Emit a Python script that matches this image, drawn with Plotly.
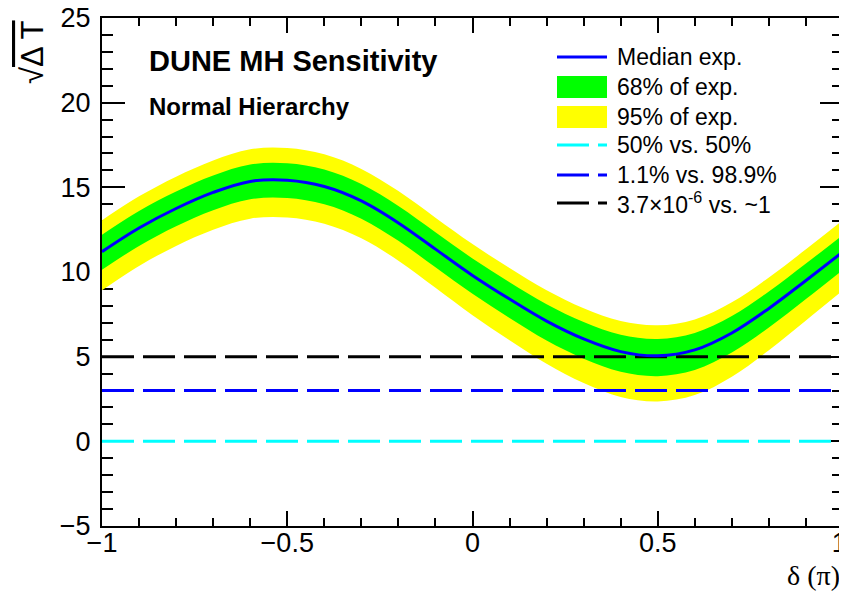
import plotly.graph_objects as go

# delta_CP in units of pi
delta = [-1.0, -0.9, -0.8, -0.7, -0.6, -0.5, -0.4, -0.3, -0.2, -0.1, 0.0,
         0.1, 0.2, 0.3, 0.4, 0.5, 0.6, 0.7, 0.8, 0.9, 1.0]
median = [11.2, 12.6, 13.75, 14.7, 15.35, 15.42, 15.05, 14.2, 12.9, 11.35, 9.8,
          8.4, 7.1, 6.05, 5.3, 5.05, 5.4, 6.4, 7.85, 9.5, 11.2]
band68_hi = [12.2, 13.6, 14.75, 15.7, 16.35, 16.42, 16.05, 15.2, 13.9, 12.35, 10.8,
             9.4, 8.1, 7.05, 6.3, 6.05, 6.4, 7.4, 8.85, 10.5, 12.2]
band68_lo = [10.13, 11.54, 12.7, 13.65, 14.3, 14.37, 14.0, 13.15, 11.84, 10.28, 8.71,
             7.28, 5.95, 4.88, 4.11, 3.85, 4.21, 5.24, 6.72, 8.4, 10.13]
band95_hi = [13.06, 14.47, 15.63, 16.59, 17.25, 17.32, 16.95, 16.09, 14.78, 13.21, 11.65,
             10.23, 8.92, 7.86, 7.1, 6.85, 7.2, 8.21, 9.68, 11.34, 13.06]
band95_lo = [8.92, 10.36, 11.54, 12.5, 13.15, 13.22, 12.85, 11.99, 10.67, 9.07, 7.45,
             5.97, 4.58, 3.44, 2.62, 2.35, 2.73, 3.82, 5.38, 7.14, 8.92]

ref_levels = [0, 3, 5]
ref_names = ["50% vs. 50%", "1.1% vs. 98.9%", "3.7×10<sup>-6</sup> vs. ~1"]
ref_colors = ["#00ffff", "#0000ff", "#000000"]

legend_labels = ["Median exp.", "68% of exp.", "95% of exp."] + ref_names

x_ticks = [-1, -0.5, 0, 0.5, 1]
x_ticklabels = ["−1", "−0.5", "0", "0.5", "1\u00a0"]
y_ticks = [-5, 0, 5, 10, 15, 20, 25]

GREEN = "#00ff00"
YELLOW = "#ffff00"
BLUE = "#0000ff"
DASH = "32px,9px"

# figure geometry (page body has an 8px margin)
FIG_W, FIG_H = 839, 584
ML, MR, MT, MB = 94, 4, 10, 66
OFF = 8


def px(xw):
    return (xw - OFF - ML) / (FIG_W - ML - MR)


def py(yw):
    return (FIG_H - MB - (yw - OFF)) / (FIG_H - MT - MB)


fig = go.Figure()

# 95% band
fig.add_trace(go.Scatter(x=delta, y=band95_lo, mode="lines", line=dict(width=0, shape="spline", color=YELLOW),
                         showlegend=False, hoverinfo="skip"))
fig.add_trace(go.Scatter(x=delta, y=band95_hi, mode="lines", line=dict(width=0, shape="spline", color=YELLOW),
                         fill="tonexty", fillcolor=YELLOW, name="95% of exp.", showlegend=False))
# 68% band
fig.add_trace(go.Scatter(x=delta, y=band68_lo, mode="lines", line=dict(width=0, shape="spline", color=GREEN),
                         showlegend=False, hoverinfo="skip"))
fig.add_trace(go.Scatter(x=delta, y=band68_hi, mode="lines", line=dict(width=0, shape="spline", color=GREEN),
                         fill="tonexty", fillcolor=GREEN, name="68% of exp.", showlegend=False))

# reference lines
for lv, nm, col in zip(ref_levels, ref_names, ref_colors):
    fig.add_trace(go.Scatter(x=[delta[0], delta[-1]], y=[lv, lv], mode="lines",
                             line=dict(color=col, width=3, dash=DASH),
                             name=nm, showlegend=False))

# median
fig.add_trace(go.Scatter(x=delta, y=median, mode="lines",
                         line=dict(color=BLUE, width=3, shape="spline"),
                         name="Median exp.", showlegend=False))

axis_font = dict(family="Liberation Sans, Arial, sans-serif", size=27, color="black")

fig.update_xaxes(range=[-1, 1], tickvals=x_ticks, ticktext=x_ticklabels,
                 ticks="inside", ticklen=15, tickwidth=1.5, tickcolor="black",
                 minor=dict(dtick=0.1, ticks="inside", ticklen=8, tickwidth=1.5, tickcolor="black"),
                 showline=True, linecolor="black", linewidth=2, mirror="allticks",
                 showgrid=False, zeroline=False, tickfont=axis_font, ticklabelstandoff=-8,
                 ticklabeloverflow="allow", layer="below traces", automargin=False)
fig.update_yaxes(range=[-5, 25], tickvals=y_ticks,
                 ticks="inside", ticklen=23, tickwidth=1.5, tickcolor="black",
                 minor=dict(dtick=1, ticks="inside", ticklen=11, tickwidth=1.5, tickcolor="black"),
                 showline=True, linecolor="black", linewidth=2, mirror="allticks",
                 showgrid=False, zeroline=False, tickfont=axis_font, ticklabelstandoff=4,
                 ticklabeloverflow="allow", layer="below traces", automargin=False)

sans = "Liberation Sans, Arial, sans-serif"

fig.add_annotation(x=px(147), y=py(61), xref="paper", yref="paper", xanchor="left", yanchor="middle",
                   text="<b>DUNE MH Sensitivity</b>", showarrow=False,
                   font=dict(family=sans, size=29, color="black"))
fig.add_annotation(x=px(147), y=py(106), xref="paper", yref="paper", xanchor="left", yanchor="middle",
                   text="<b>Normal Hierarchy</b>", showarrow=False,
                   font=dict(family=sans, size=24, color="black"))
fig.add_annotation(x=px(842), y=py(575), xref="paper", yref="paper", xanchor="right", yanchor="middle",
                   text="δ (π)", showarrow=False,
                   font=dict(family="Liberation Serif, Times New Roman, serif", size=28, color="black"))
fig.add_annotation(x=px(33), y=py(52), xref="paper", yref="paper", xanchor="center", yanchor="middle",
                   text="√<span style='text-decoration:overline'>Δ T</span>", textangle=-90, showarrow=False,
                   font=dict(family=sans, size=31, color="black"))

# manual legend (ROOT style)
row_y = [57, 87, 117, 145, 175, 203]
sym_x0, sym_x1, text_x = 557, 607, 615
legend_styles = [("line", BLUE, None), ("box", GREEN, None), ("box", YELLOW, None),
                 ("line", ref_colors[0], DASH), ("line", ref_colors[1], DASH), ("line", ref_colors[2], DASH)]
for yrow, label, (kind, col, dash) in zip(row_y, legend_labels, legend_styles):
    if kind == "box":
        fig.add_shape(type="rect", xref="paper", yref="paper",
                      x0=px(sym_x0), x1=px(sym_x1), y0=py(yrow - 11), y1=py(yrow + 11),
                      fillcolor=col, line=dict(width=0))
    else:
        fig.add_shape(type="line", xref="paper", yref="paper",
                      x0=px(sym_x0), x1=px(sym_x1), y0=py(yrow), y1=py(yrow),
                      line=dict(color=col, width=3, dash=dash))
    fig.add_annotation(x=px(text_x), y=py(yrow), xref="paper", yref="paper", xanchor="left", yanchor="middle",
                       text=label, showarrow=False, font=dict(family=sans, size=23, color="black"))

fig.update_layout(
    width=FIG_W, height=FIG_H,
    margin=dict(l=ML, r=MR, t=MT, b=MB, autoexpand=False),
    plot_bgcolor="white", paper_bgcolor="white",
    showlegend=False,
)

fig.write_html("out.html")
